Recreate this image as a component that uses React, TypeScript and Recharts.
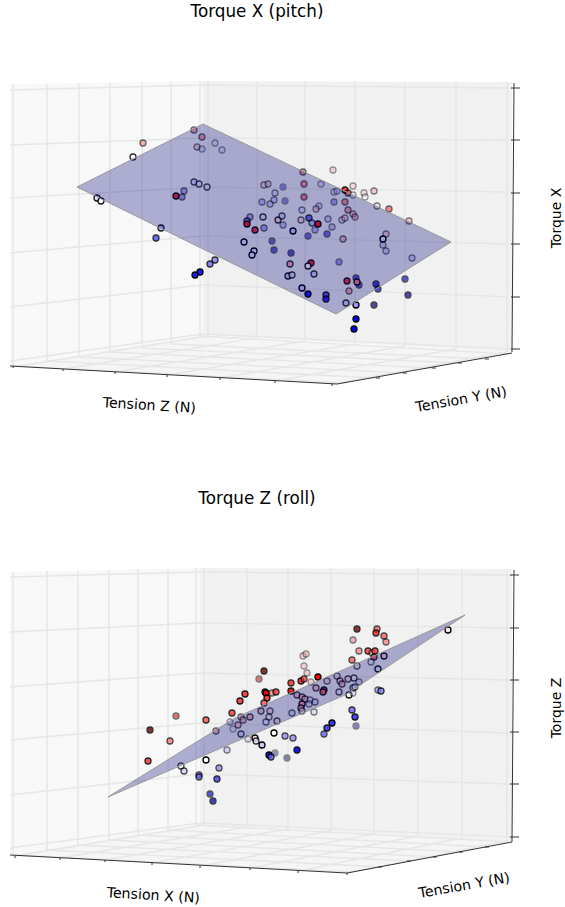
import { Area, ComposedChart, ReferenceDot, ReferenceLine, Scatter, XAxis, YAxis } from "recharts";

// projected positions: [x, y, torque (-1 blue .. 1 red, beyond that darker), depth (alpha)]
type Pt = [number, number, number, number];
type Seg = [number, number, number, number];
type Poly = [number, number, number][];

const pitchPoints: Pt[] = [
  [194, 130, 0.5, 0.6], [202, 137, 0.6, 0.6], [197, 147, 0.4, 0.5], [202, 149, -0.3, 0.4], [215, 143, -0.2, 0.4],
  [222, 150, -0.2, 0.4], [143, 143, 0.5, 0.6], [133, 157, 0, 0.8], [97, 198, -0.1, 0.9], [101, 201, 0, 0.9],
  [194, 182, -0.2, 0.7], [199, 184, -0.1, 0.7], [207, 187, -0.1, 0.7], [184, 191, -0.5, 0.6], [176, 196, 0.9, 0.95],
  [182, 197, -0.6, 0.6], [161, 228, -0.3, 0.9], [156, 238, -0.7, 0.8], [215, 260, -0.5, 0.8], [210, 264, -0.6, 0.8],
  [200, 272, -0.9, 1], [195, 275, -0.9, 1], [264, 185, 0.2, 0.5], [268, 184, 0.3, 0.5], [275, 193, -0.2, 0.5],
  [262, 202, -0.4, 0.5], [274, 200, -0.3, 0.5], [270, 204, -0.3, 0.5], [250, 217, -0.5, 0.6], [263, 217, -0.1, 0.8],
  [278, 220, 0.2, 0.8], [247, 221, -0.5, 0.8], [247, 224, 0.9, 1], [255, 230, 0.9, 0.9], [264, 228, -0.5, 0.6],
  [244, 242, -0.1, 1], [272, 241, -1.4, 0.55], [274, 250, -1.2, 0.6], [254, 251, -0.1, 1], [252, 255, -0.1, 1],
  [303, 172, 0.7, 0.6], [333, 170, 0.4, 0.4], [304, 184, 0.7, 0.6], [283, 187, -1.1, 0.4], [321, 184, -0.3, 0.4],
  [304, 197, 0.8, 0.6], [285, 201, -1.3, 0.4], [334, 192, -0.3, 0.4], [337, 191, -0.3, 0.4], [345, 190, 0.8, 0.9],
  [348, 193, 0.8, 0.7], [353, 186, 0.3, 0.4], [353, 195, -0.2, 0.4], [364, 193, 0.2, 0.4], [365, 197, 0, 0.4],
  [374, 191, 0.4, 0.5], [334, 202, -0.6, 0.5], [345, 202, 0.7, 0.6], [319, 206, -0.4, 0.4], [316, 209, 0.3, 0.5],
  [302, 210, -0.2, 0.5], [282, 216, -0.2, 0.7], [348, 210, 0.6, 0.6], [353, 214, 0.5, 0.5], [355, 217, 0.5, 0.5],
  [377, 206, -0.1, 0.5], [389, 209, 0.8, 0.6], [409, 221, 0.4, 0.5], [301, 220, 0.2, 0.6], [309, 218, -0.7, 0.8],
  [312, 223, -0.3, 0.7], [318, 224, 0.9, 1], [328, 219, -0.3, 0.5], [342, 220, -0.2, 0.5], [345, 218, 0.3, 0.5],
  [332, 227, -0.4, 0.5], [283, 225, -0.4, 0.5], [293, 231, -0.2, 1], [315, 230, -0.5, 0.5], [308, 236, -1.1, 0.55],
  [327, 234, -0.9, 0.6], [343, 239, 0.4, 0.6], [386, 234, 0.3, 0.5], [383, 239, -0.1, 1], [383, 245, -0.3, 0.5],
  [386, 251, -0.3, 0.5], [412, 258, -0.3, 0.5], [291, 253, -1.2, 0.65], [290, 264, 0.4, 0.8], [311, 263, 0.95, 0.9],
  [308, 266, 0, 0.9], [339, 262, -0.7, 0.5], [288, 276, -0.2, 0.9], [292, 275, -0.1, 0.8], [314, 274, -0.2, 0.8],
  [302, 288, -0.2, 1], [308, 294, -0.9, 1], [326, 295, -0.7, 0.9], [326, 299, -0.9, 0.9], [347, 281, 0.9, 0.9],
  [356, 278, -1.1, 0.65], [359, 285, -1.2, 0.65], [357, 282, 0.5, 0.9], [349, 291, 0.5, 0.6], [376, 284, -1.05, 0.75],
  [378, 289, -1.1, 0.7], [405, 279, -1.1, 0.65], [408, 295, -1.4, 0.7], [374, 305, -1.5, 0.7], [346, 303, -0.2, 0.8],
  [356, 305, -0.4, 1], [356, 319, -1, 1], [354, 329, -1, 1],
];

const rollPoints: Pt[] = [
  [264, 671, 1.6, 0.8], [259, 679, 1.2, 0.5], [265, 692, 0.9, 0.9], [266, 693, 1, 1], [272, 693, 0.6, 0.6],
  [276, 692, 0.8, 0.8], [267, 698, 0.8, 0.9], [245, 694, 0.8, 0.9], [240, 701, 0.8, 0.9], [264, 703, 0.7, 0.8],
  [232, 713, 0.8, 0.8], [206, 720, 0.7, 0.8], [176, 716, 1.2, 0.55], [150, 730, 1.6, 0.8], [170, 741, 0.6, 0.7],
  [241, 717, 0.3, 0.6], [243, 720, 0.3, 0.6], [250, 717, 0.4, 0.7], [261, 711, 0.3, 0.7], [270, 711, 0.2, 0.6],
  [269, 717, 0.1, 0.6], [266, 722, -0.1, 0.6], [277, 721, 0.2, 0.7], [230, 722, -0.3, 0.4], [238, 725, 0.3, 0.6],
  [233, 729, -0.2, 0.35], [241, 734, -0.2, 0.7], [216, 731, 0.4, 0.6], [255, 738, 0.1, 1], [274, 733, 0, 1],
  [248, 739, -0.3, 0.4], [148, 761, 0.8, 0.85], [181, 766, 0, 0.7], [184, 771, -0.2, 0.7], [206, 760, 0, 1],
  [227, 750, -0.3, 0.5], [256, 741, -0.1, 0.8], [262, 745, -0.2, 1], [269, 755, -0.9, 1], [275, 753, -1.5, 0.4],
  [271, 757, -0.6, 0.8], [199, 775, -0.7, 0.7], [199, 777, -0.6, 0.7], [219, 768, -0.5, 0.7], [217, 779, -0.8, 0.8],
  [210, 794, -1.2, 0.65], [213, 801, -1.3, 0.75], [357, 629, 1.5, 0.8], [377, 629, 0.7, 0.7], [376, 633, 0.9, 0.8],
  [384, 636, 0.7, 0.7], [386, 642, 0.6, 0.6], [353, 640, 0.6, 0.5], [359, 651, 0.6, 0.6], [368, 651, 0.8, 0.8],
  [372, 653, 0.3, 0.5], [375, 651, 0.8, 0.8], [374, 657, 0.7, 0.8], [352, 660, 0.7, 0.7], [371, 662, -0.1, 0.5],
  [384, 656, 0.2, 0.9], [357, 666, 0.1, 0.6], [378, 669, -0.1, 0.9], [448, 630, 0.1, 1], [303, 656, 0.4, 0.4],
  [306, 654, 0.4, 0.4], [304, 666, 0.4, 0.4], [307, 673, 0.4, 0.4], [291, 683, 0.9, 0.8], [301, 681, 0.9, 0.85],
  [304, 679, 0.8, 0.7], [311, 682, 0.4, 0.4], [318, 677, 1, 1], [291, 691, 1, 0.9], [327, 681, 0.2, 0.6],
  [337, 676, 0.2, 0.6], [340, 681, 0.3, 0.7], [342, 684, 0.3, 0.7], [348, 679, 0.2, 0.7], [354, 678, 0.1, 0.7],
  [359, 682, -0.2, 0.5], [353, 688, -0.1, 0.7], [355, 687, -0.1, 0.6], [339, 692, -0.1, 0.7], [349, 695, 0, 0.9],
  [353, 693, -0.3, 0.4], [316, 688, 0.3, 0.7], [324, 690, 0.9, 0.9], [323, 692, 0.6, 0.9], [378, 690, -0.5, 0.6],
  [381, 691, -0.5, 0.8], [297, 695, 0.3, 0.7], [302, 697, 0.4, 0.7], [305, 699, 0.3, 0.7], [310, 700, -0.2, 0.5],
  [315, 702, -0.2, 0.6], [309, 704, -0.2, 0.5], [302, 704, 0.4, 0.9], [301, 708, 0.3, 0.8], [302, 711, 0.1, 0.6],
  [292, 713, -0.2, 0.6], [314, 712, -0.2, 0.5], [352, 710, -0.6, 0.8], [355, 717, -0.8, 0.9], [356, 726, -1.5, 0.45],
  [332, 723, -0.8, 1], [327, 728, -0.8, 0.9], [324, 734, -0.7, 0.7], [285, 736, -0.5, 0.7], [293, 738, -0.5, 0.7],
  [297, 750, -1, 0.9], [287, 758, -1.6, 0.45],
];

// polygons as [x, upper y, lower y]
const pitchLeftWall: Poly = [[10, 84, 366], [203, 81, 335]];
const pitchRightWall: Poly = [[203, 81, 335], [512, 82, 352]];
const pitchFloor: Poly = [[10, 366, 366], [203, 335, 377], [337, 343, 384], [512, 352, 352]];
const pitchPlane: Poly = [[77, 187, 187], [203, 124, 249], [336, 187, 314], [451, 242, 242]];

const rollLeftWall: Poly = [[10, 572, 855], [200, 568, 824]];
const rollRightWall: Poly = [[200, 568, 824], [512, 569, 842]];
const rollFloor: Poly = [[10, 855, 855], [201, 824, 866], [347, 832, 873], [512, 842, 842]];
const rollPlane: Poly = [[108, 797, 797], [235, 718, 742], [345, 669, 695], [465, 615, 615]];

const pitchGrid: Seg[] = [
  [13, 84, 13, 366], [47, 84, 47, 361], [79, 83, 79, 357], [110, 83, 110, 352], [142, 82, 142, 348], [171, 82, 171, 344], [200, 81, 200, 336],
  [208, 81, 208, 336], [257, 81, 257, 338], [305, 81, 305, 341], [355, 81, 355, 344], [405, 82, 405, 346], [456, 82, 456, 349], [507, 82, 507, 352],
  [10, 90, 203, 85], [10, 145, 203, 138], [10, 198, 203, 187], [10, 253, 203, 236], [10, 307, 203, 285], [10, 361, 203, 334],
  [203, 85, 512, 88], [203, 138, 512, 140], [203, 187, 512, 192], [203, 236, 512, 244], [203, 285, 512, 297], [203, 334, 512, 349],
  [13, 366, 345, 383], [47, 361, 376, 378], [79, 357, 404, 373], [110, 352, 432, 368], [142, 348, 458, 363], [171, 344, 485, 359], [200, 336, 509, 354],
  [208, 336, 13, 367], [257, 338, 63, 369], [305, 341, 115, 372], [355, 344, 167, 375], [405, 346, 220, 378], [456, 349, 275, 381], [507, 352, 332, 384],
];

const rollGrid: Seg[] = [
  [13, 572, 13, 855], [47, 571, 47, 850], [78, 571, 78, 845], [109, 570, 109, 840], [138, 569, 138, 835], [168, 569, 168, 830], [196, 568, 196, 825],
  [204, 568, 204, 825], [247, 568, 247, 827], [288, 568, 288, 829], [331, 568, 331, 831], [374, 568, 374, 834], [418, 568, 418, 836], [462, 569, 462, 838], [507, 569, 507, 841],
  [10, 577, 200, 572], [10, 632, 200, 623], [10, 687, 200, 673], [10, 740, 200, 723], [10, 795, 200, 774], [10, 848, 200, 823],
  [200, 572, 512, 575], [200, 623, 512, 628], [200, 673, 512, 680], [200, 723, 512, 733], [200, 774, 512, 784], [200, 823, 512, 837],
  [13, 855, 352, 872], [47, 850, 381, 867], [78, 845, 410, 861], [109, 840, 435, 857], [138, 835, 461, 852], [168, 830, 487, 847], [196, 825, 510, 842],
  [204, 825, 15, 856], [247, 827, 60, 858], [288, 829, 105, 860], [331, 831, 152, 863], [374, 834, 200, 866], [418, 836, 250, 868], [462, 838, 298, 871], [507, 841, 347, 873],
];

const pitchAxes: Seg[] = [
  [10, 366, 337, 384], [337, 384, 512, 353], [512, 352, 514, 83],
  [511, 88, 520, 88], [511, 140, 520, 140], [511, 193, 520, 193], [511, 244, 520, 244], [511, 297, 520, 297], [511, 349, 520, 349],
  [13, 366, 13, 368], [63, 369, 63, 371], [115, 372, 115, 374], [167, 375, 167, 377], [220, 378, 220, 380], [275, 381, 275, 383], [332, 384, 332, 386],
  [376, 378, 380, 378], [403, 373, 407, 373], [432, 368, 436, 368], [458, 363, 462, 363], [485, 359, 489, 359],
];

const rollAxes: Seg[] = [
  [10, 855, 347, 873], [347, 873, 512, 842], [512, 842, 514, 570],
  [510, 575, 519, 575], [510, 628, 519, 628], [510, 680, 519, 680], [510, 732, 519, 732], [510, 784, 519, 784], [510, 837, 519, 837],
  [15, 856, 15, 858], [60, 858, 60, 860], [105, 860, 105, 862], [152, 863, 152, 865], [200, 866, 200, 868], [250, 868, 250, 870], [298, 871, 298, 873], [347, 873, 347, 875],
  [378, 867, 382, 867], [407, 861, 411, 861], [433, 857, 437, 857], [459, 852, 463, 852], [485, 847, 489, 847],
];

const pitchLabels: [string, number, number, number, number][] = [
  ["Torque X (pitch)", 257, 17, 0, 16.8],
  ["Tension Z (N)", 149, 410, 3.5, 14.2],
  ["Tension Y (N)", 462, 404, -10, 14.2],
  ["Torque X", 561, 218, -90, 14],
];

const rollLabels: [string, number, number, number, number][] = [
  ["Torque Z (roll)", 257, 504, 0, 16.8],
  ["Tension X (N)", 153, 900, 3.5, 14.2],
  ["Tension Y (N)", 465, 890, -10, 14.2],
  ["Torque Z", 561, 708, -90, 14],
];

function torqueColor(c: number) {
  const a = Math.abs(c);
  const v = Math.round(255 * Math.max(1 - a, 0));
  // past full saturation the colour goes dark
  const main = Math.round(255 * Math.min(2 - a, 1));
  return c < 0 ? `rgb(${v},${v},${main})` : `rgb(${main},${v},${v})`;
}

const dot = (p: any) => (
  <circle
    cx={p.cx}
    cy={p.cy}
    r={3}
    fill={torqueColor(p.payload.c)}
    stroke="#000"
    strokeWidth={1.3}
    opacity={p.payload.d}
  />
);

const toArea = (poly: Poly) => poly.map(([x, hi, lo]) => ({ x, range: [hi, lo] }));

function Panel({ yFrom, yTo, left, right, floor, plane, grid, axes, points, labels }: {
  yFrom: number; yTo: number; left: Poly; right: Poly; floor: Poly; plane: Poly;
  grid: Seg[]; axes: Seg[]; points: Pt[]; labels: [string, number, number, number, number][];
}) {
  const pts = points.map(([x, y, c, d]) => ({ x, y, c, d }));
  const seg = (s: Seg, i: number, stroke: string, w: number, z: number) => (
    <ReferenceLine
      key={`${stroke}${i}`}
      segment={[{ x: s[0], y: s[1] }, { x: s[2], y: s[3] }]}
      stroke={stroke}
      strokeWidth={w}
      zIndex={z}
    />
  );
  const wall = (poly: Poly, fill: string) => (
    <Area
      data={toArea(poly)}
      dataKey="range"
      fill={fill}
      fillOpacity={1}
      stroke="none"
      dot={false}
      activeDot={false}
      isAnimationActive={false}
      zIndex={1}
    />
  );
  return (
    <ComposedChart width={565} height={yTo - yFrom} margin={{ top: 0, right: 0, bottom: 0, left: 0 }}>
      <XAxis dataKey="x" type="number" domain={[0, 565]} hide allowDataOverflow />
      <YAxis dataKey="y" type="number" domain={[yFrom, yTo]} reversed hide allowDataOverflow />
      {wall(left, "#f8f8f8")}
      {wall(right, "#f1f1f1")}
      {wall(floor, "#f5f5f5")}
      {grid.map((s, i) => seg(s, i, "#e6e6e6", 1.4, 2))}
      {axes.map((s, i) => seg(s, i, "#333", 1, 3))}
      <Scatter data={pts} shape={dot} isAnimationActive={false} zIndex={4} />
      <Area
        data={toArea(plane)}
        dataKey="range"
        fill="#00007b"
        fillOpacity={0.3}
        stroke="#999"
        strokeWidth={1}
        dot={false}
        activeDot={false}
        isAnimationActive={false}
        zIndex={5}
      />
      {labels.map(([text, x, y, rot, size]) => (
        <ReferenceDot
          key={`${text}${x}`}
          x={x}
          y={y}
          r={0}
          zIndex={6}
          shape={(p: any) => (
            <text
              x={p.cx}
              y={p.cy}
              textAnchor="middle"
              fontSize={size}
              fontFamily="DejaVu Sans"
              fill="#000"
              transform={`rotate(${rot} ${p.cx} ${p.cy})`}
            >
              {text}
            </text>
          )}
        />
      ))}
    </ComposedChart>
  );
}

export default function App() {
  return (
    <div style={{ position: "absolute", left: 0, top: 0, width: 565, height: 907, background: "#fff" }}>
      <Panel yFrom={0} yTo={453} left={pitchLeftWall} right={pitchRightWall} floor={pitchFloor} plane={pitchPlane}
        grid={pitchGrid} axes={pitchAxes} points={pitchPoints} labels={pitchLabels} />
      <Panel yFrom={453} yTo={907} left={rollLeftWall} right={rollRightWall} floor={rollFloor} plane={rollPlane}
        grid={rollGrid} axes={rollAxes} points={rollPoints} labels={rollLabels} />
    </div>
  );
}
